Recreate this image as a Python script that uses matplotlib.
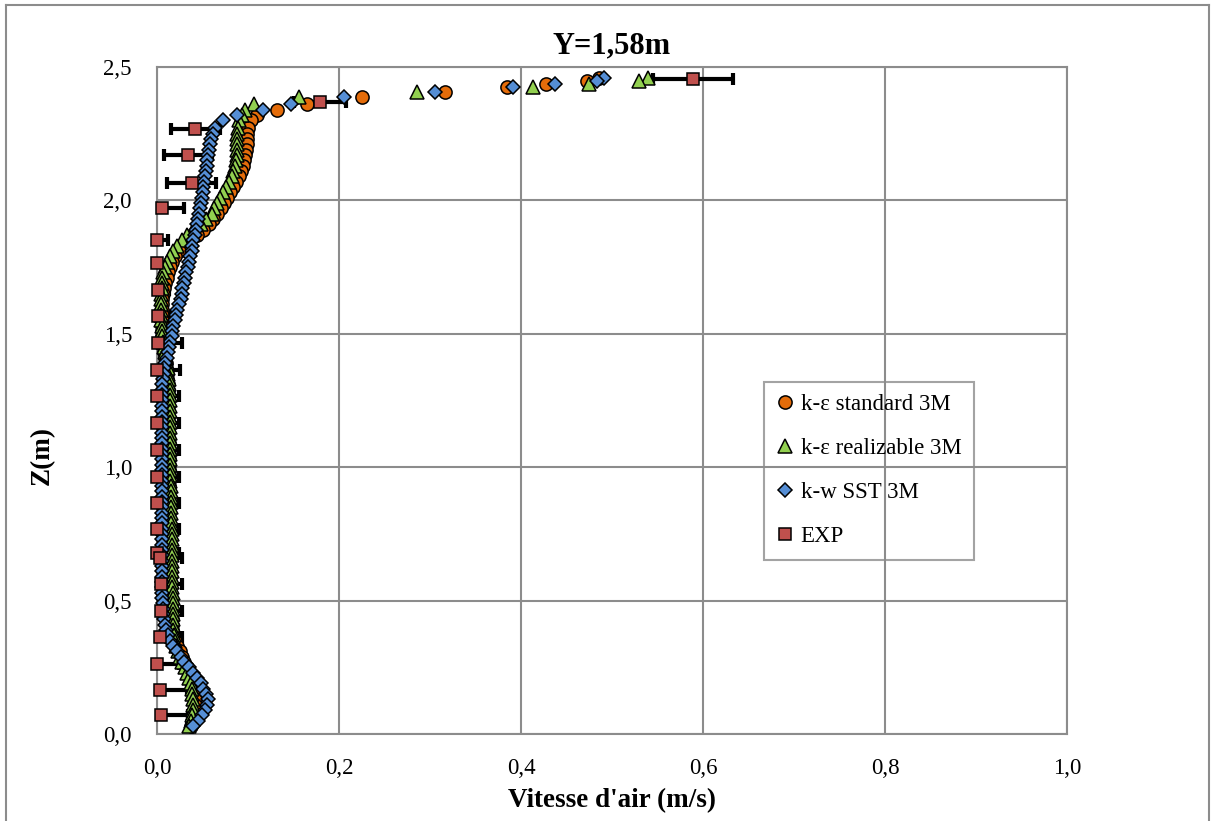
import matplotlib
matplotlib.use("Agg")
import matplotlib.pyplot as plt
from matplotlib.ticker import FuncFormatter, MultipleLocator
from matplotlib.lines import Line2D

plt.rcParams['font.family'] = ['Liberation Serif', 'DejaVu Serif']

# sampling heights of the simulation line (m)
z_sim = [0.03, 0.05, 0.07, 0.09, 0.11, 0.13, 0.15, 0.17, 0.19, 0.21,
         0.23, 0.25, 0.27, 0.29, 0.31, 0.33, 0.35, 0.37, 0.39, 0.41,
         0.43, 0.45, 0.47, 0.49, 0.51, 0.53, 0.55, 0.57, 0.59, 0.61,
         0.63, 0.65, 0.67, 0.69, 0.71, 0.73, 0.75, 0.77, 0.79, 0.81,
         0.83, 0.85, 0.87, 0.89, 0.91, 0.93, 0.95, 0.97, 0.99, 1.01,
         1.03, 1.05, 1.07, 1.09, 1.11, 1.13, 1.15, 1.17, 1.19, 1.21,
         1.23, 1.25, 1.27, 1.29, 1.31, 1.33, 1.35, 1.37, 1.39, 1.41,
         1.43, 1.45, 1.47, 1.49, 1.51, 1.53, 1.55, 1.57, 1.59, 1.61,
         1.63, 1.65, 1.67, 1.69, 1.71, 1.73, 1.75, 1.77, 1.79, 1.81,
         1.83, 1.85, 1.87, 1.89, 1.91, 1.93, 1.95, 1.97, 1.99, 2.01,
         2.03, 2.05, 2.07, 2.09, 2.11, 2.13, 2.15, 2.17, 2.19, 2.21,
         2.23, 2.25, 2.27,
         2.30, 2.32, 2.338, 2.363, 2.387, 2.407, 2.424, 2.436, 2.447, 2.458]

# k-eps standard 3M (m/s)
v_std = [0.037, 0.039, 0.041, 0.042, 0.042, 0.042, 0.041, 0.040, 0.039, 0.037,
         0.035, 0.033, 0.030, 0.027, 0.025, 0.022, 0.020, 0.018, 0.017, 0.016,
         0.016, 0.015, 0.015, 0.015, 0.015, 0.014, 0.014, 0.014, 0.014, 0.014,
         0.014, 0.013, 0.013, 0.013, 0.013, 0.013, 0.013, 0.013, 0.013, 0.013,
         0.013, 0.013, 0.013, 0.013, 0.013, 0.013, 0.013, 0.013, 0.013, 0.013,
         0.013, 0.013, 0.013, 0.013, 0.012, 0.012, 0.012, 0.012, 0.012, 0.012,
         0.012, 0.012, 0.012, 0.012, 0.012, 0.011, 0.011, 0.010, 0.010, 0.009,
         0.008, 0.008, 0.007, 0.006, 0.006, 0.006, 0.006, 0.006, 0.006, 0.006,
         0.006, 0.007, 0.008, 0.009, 0.011, 0.012, 0.014, 0.017, 0.020, 0.024,
         0.030, 0.036, 0.044, 0.051, 0.057, 0.062, 0.066, 0.070, 0.074, 0.077,
         0.080, 0.084, 0.087, 0.090, 0.092, 0.094, 0.096, 0.097, 0.098, 0.099,
         0.099, 0.099, 0.100,
         0.103, 0.110, 0.132, 0.165, 0.225, 0.317, 0.385, 0.428, 0.473, 0.486]

# k-eps realizable 3M (m/s)
v_rea = [0.035, 0.037, 0.039, 0.040, 0.040, 0.040, 0.039, 0.038, 0.037, 0.035,
         0.033, 0.031, 0.028, 0.025, 0.023, 0.021, 0.020, 0.019, 0.018, 0.018,
         0.018, 0.018, 0.018, 0.018, 0.018, 0.018, 0.017, 0.017, 0.017, 0.017,
         0.017, 0.017, 0.016, 0.016, 0.016, 0.016, 0.016, 0.016, 0.015, 0.015,
         0.015, 0.015, 0.015, 0.015, 0.015, 0.015, 0.014, 0.014, 0.014, 0.014,
         0.014, 0.014, 0.014, 0.014, 0.014, 0.014, 0.014, 0.014, 0.014, 0.014,
         0.014, 0.014, 0.014, 0.014, 0.013, 0.013, 0.012, 0.012, 0.011, 0.010,
         0.009, 0.008, 0.007, 0.006, 0.005, 0.005, 0.004, 0.004, 0.004, 0.004,
         0.004, 0.004, 0.005, 0.005, 0.006, 0.007, 0.009, 0.011, 0.014, 0.018,
         0.022, 0.027, 0.033, 0.040, 0.048, 0.054, 0.060, 0.063, 0.066, 0.069,
         0.073, 0.076, 0.079, 0.082, 0.084, 0.086, 0.087, 0.088, 0.088, 0.088,
         0.088, 0.088, 0.089,
         0.090, 0.093, 0.097, 0.107, 0.156, 0.286, 0.413, 0.475, 0.530, 0.540]

# k-w SST 3M (m/s)
v_sst = [0.040, 0.045, 0.049, 0.053, 0.055, 0.056, 0.054, 0.051, 0.048, 0.044,
         0.040, 0.035, 0.030, 0.026, 0.022, 0.018, 0.014, 0.012, 0.010, 0.009,
         0.008, 0.007, 0.007, 0.007, 0.006, 0.006, 0.006, 0.006, 0.006, 0.006,
         0.006, 0.006, 0.006, 0.006, 0.006, 0.006, 0.006, 0.006, 0.006, 0.006,
         0.006, 0.006, 0.006, 0.006, 0.006, 0.006, 0.006, 0.006, 0.006, 0.006,
         0.006, 0.006, 0.005, 0.005, 0.005, 0.005, 0.005, 0.005, 0.005, 0.005,
         0.005, 0.005, 0.006, 0.006, 0.006, 0.007, 0.008, 0.008, 0.009, 0.011,
         0.012, 0.013, 0.014, 0.016, 0.017, 0.018, 0.020, 0.021, 0.022, 0.024,
         0.026, 0.027, 0.028, 0.030, 0.031, 0.032, 0.034, 0.035, 0.036, 0.038,
         0.039, 0.040, 0.042, 0.043, 0.044, 0.045, 0.046, 0.047, 0.048, 0.049,
         0.050, 0.051, 0.052, 0.053, 0.054, 0.055, 0.055, 0.056, 0.057, 0.058,
         0.059, 0.061, 0.064,
         0.073, 0.088, 0.117, 0.147, 0.206, 0.305, 0.391, 0.437, 0.483, 0.491]

# experiment (m, m/s)
z_exp = [2.454, 2.368, 2.267, 2.170, 2.067, 1.970, 1.852, 1.765, 1.665, 1.566,
         1.464, 1.365, 1.266, 1.166, 1.063, 0.963, 0.866, 0.767, 0.680, 0.660,
         0.561, 0.461, 0.362, 0.264, 0.165, 0.071]
v_exp = [0.589, 0.179, 0.042, 0.034, 0.038, 0.005, 0.000, 0.000, 0.001, 0.001,
         0.001, 0.000, 0.000, 0.000, 0.000, 0.000, 0.000, 0.000, 0.000, 0.003,
         0.004, 0.004, 0.003, 0.000, 0.003, 0.004]
err_exp = [0.044, 0.029, 0.027, 0.026, 0.027, 0.025, 0.012, 0.012, 0.012, 0.012,
           0.026, 0.025, 0.024, 0.024, 0.024, 0.024, 0.024, 0.024, 0.024, 0.025,
           0.024, 0.024, 0.024, 0.024, 0.030, 0.030]

labels = ['k-\u03b5 standard 3M', 'k-\u03b5 realizable 3M', 'k-w SST 3M', 'EXP']
c_std = '#E46C0A'
c_rea = '#92D050'
c_sst = '#558ED5'
c_exp = '#C0504D'
grid_c = '#8C8C8C'

fig = plt.figure(figsize=(12.16, 8.21), dpi=100)
ax = fig.add_axes([157 / 1216, 1 - 734 / 821, 910 / 1216, 667 / 821])

# Excel draws the profile points from the top down
ax.plot(v_std[::-1], z_sim[::-1], ls='none', marker='o', ms=9.5, mfc=c_std,
        mec='black', mew=1.1, clip_on=False, zorder=3)
ax.plot(v_rea[::-1], z_sim[::-1], ls='none', marker='^', ms=9.5, mfc=c_rea,
        mec='black', mew=1.1, clip_on=False, zorder=4)
ax.plot(v_sst[::-1], z_sim[::-1], ls='none', marker='D', ms=6.8, mfc=c_sst,
        mec='black', mew=1.1, clip_on=False, zorder=5)
ax.errorbar(v_exp, z_exp, xerr=err_exp, fmt='none', ecolor='black',
            elinewidth=3, capsize=4.5, capthick=3, zorder=2)
ax.plot(v_exp, z_exp, ls='none', marker='s', ms=9, mfc=c_exp, mec='black',
        mew=1.1, clip_on=False, zorder=6)

ax.set_xlim(0, 1.0)
ax.set_ylim(0, 2.5)
ax.xaxis.set_major_locator(MultipleLocator(0.2))
ax.yaxis.set_major_locator(MultipleLocator(0.5))
fmt = FuncFormatter(lambda v, p: f"{v:.1f}".replace('.', ','))
ax.xaxis.set_major_formatter(fmt)
ax.yaxis.set_major_formatter(fmt)
ax.tick_params(length=0, labelsize=16.5)
ax.tick_params(axis='x', pad=17)
ax.tick_params(axis='y', pad=18)
ax.grid(True, color=grid_c, lw=1.5)
ax.set_axisbelow(True)
for s in ax.spines.values():
    s.set_color(grid_c)
    s.set_linewidth(1.5)

ax.set_title('Y=1,58m', fontsize=22, fontweight='bold', pad=10)
ax.set_xlabel("Vitesse d'air (m/s)", fontsize=19.5, fontweight='bold', labelpad=7)
ax.set_ylabel('Z(m)', fontsize=19.5, fontweight='bold')
ax.yaxis.set_label_coords(-0.112, 0.418)

handles = [
    Line2D([], [], ls='none', marker='o', ms=9.5, mfc=c_std, mec='black', mew=1.1),
    Line2D([], [], ls='none', marker='^', ms=9.5, mfc=c_rea, mec='black', mew=1.1),
    Line2D([], [], ls='none', marker='D', ms=6.8, mfc=c_sst, mec='black', mew=1.1),
    Line2D([], [], ls='none', marker='s', ms=9, mfc=c_exp, mec='black', mew=1.1),
]
leg = ax.legend(handles, labels, loc='upper left', bbox_to_anchor=(0.667, 0.528),
                fontsize=16.5, frameon=True, fancybox=False, facecolor='none',
                edgecolor=grid_c, labelspacing=1.0, handlelength=0.7,
                handletextpad=0.35, borderpad=0.55, borderaxespad=0)
leg.get_frame().set_linewidth(1.5)

# outer chart border
fig.add_artist(Line2D([6 / 1216, 6 / 1216], [0, 1 - 5 / 821], color=grid_c, lw=1.5))
fig.add_artist(Line2D([6 / 1216, 1209 / 1216], [1 - 5 / 821, 1 - 5 / 821], color=grid_c, lw=1.5))
fig.add_artist(Line2D([1209 / 1216, 1209 / 1216], [0, 1 - 5 / 821], color=grid_c, lw=1.5))

fig.savefig('out.png', dpi=100, facecolor='white')
